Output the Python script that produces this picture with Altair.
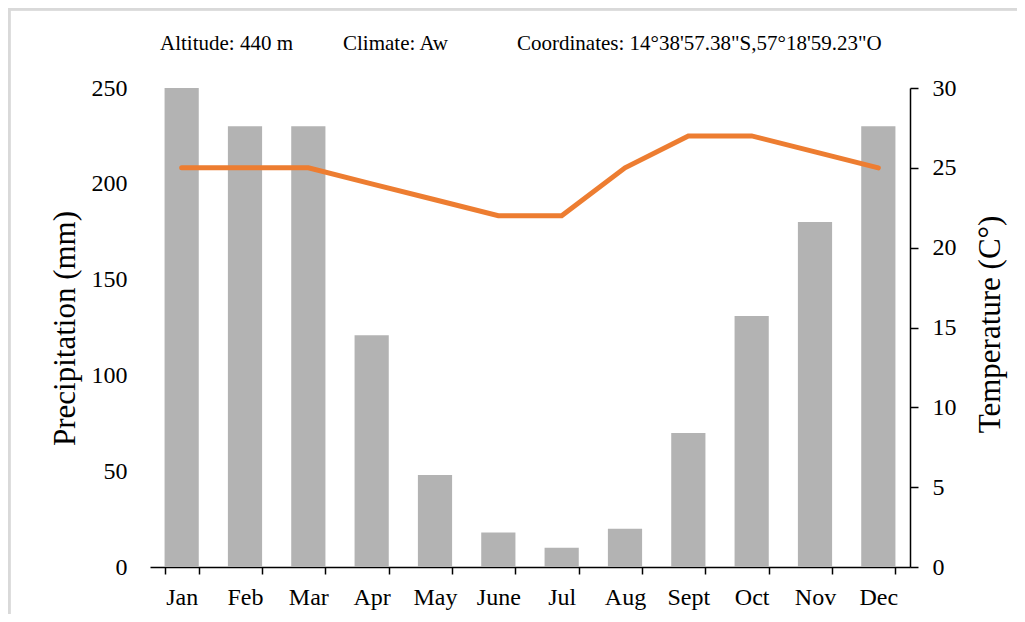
import altair as alt
import pandas as pd

months = ["Jan", "Feb", "Mar", "Apr", "May", "June", "Jul", "Aug", "Sept", "Oct", "Nov", "Dec"]
precipitation = [250, 230, 230, 121, 48, 18, 10, 20, 70, 131, 180, 230]
temperature = [25, 25, 25, 24, 23, 22, 22, 25, 27, 27, 26, 25]

header_texts = ["Altitude: 440 m", "Climate: Aw", "Coordinates: 14°38'57.38\"S,57°18'59.23\"O"]
header_x = [10, 193, 367]

df = pd.DataFrame({"month": months, "precip": precipitation, "temp": temperature})
hdr = pd.DataFrame({"label": header_texts, "px": header_x})

FONT = "Liberation Serif"
W, H = 760, 479

xenc = alt.X(
    "month:N",
    sort=months,
    scale=alt.Scale(paddingInner=0.46, paddingOuter=0.23),
    axis=alt.Axis(
        title=None, labelAngle=0, domainColor="black", domainWidth=1.5,
        tickColor="black", tickWidth=1.5, tickSize=7, tickBand="extent",
        labelFontSize=24, labelPadding=11, labelColor="black", labelFont=FONT,
    ),
)

bars = alt.Chart(df).mark_bar(color="#b3b3b3").encode(
    x=xenc,
    y=alt.Y(
        "precip:Q",
        scale=alt.Scale(domain=[0, 250], nice=False),
        axis=alt.Axis(
            title="Precipitation (mm)", values=[0, 50, 100, 150, 200, 250],
            domain=False, ticks=False, grid=False, labelPadding=23,
            labelFontSize=24, labelColor="black", labelFont=FONT,
            titleFontSize=31, titleFont=FONT, titleFontWeight="normal", titleColor="black",
            titleAngle=270, titleX=-85, titleY=240, titleBaseline="middle", titleAlign="center",
        ),
    ),
)

line = alt.Chart(df).mark_line(color="#ed7d31", strokeWidth=5, strokeCap="round").encode(
    x=alt.X("month:N", sort=months),
    y=alt.Y(
        "temp:Q",
        scale=alt.Scale(domain=[0, 30], nice=False),
        axis=alt.Axis(
            orient="right", title="Temperature (C°)", values=[0, 5, 10, 15, 20, 25, 30],
            domainColor="black", domainWidth=1.5, tickColor="black", tickWidth=1.5, tickSize=8,
            grid=False, labelPadding=14,
            labelFontSize=24, labelColor="black", labelFont=FONT,
            titleFontSize=31, titleFont=FONT, titleFontWeight="normal", titleColor="black",
            titleAngle=270, titleX=80, titleY=236, titleBaseline="middle", titleAlign="center",
        ),
    ),
)

header = alt.Chart(hdr).mark_text(
    font=FONT, fontSize=21, align="left", baseline="middle", color="black"
).encode(
    x=alt.X("px:Q", scale=None),
    y=alt.value(-44),
    text="label:N",
)

frame_top = alt.Chart(hdr).mark_rule(color="#d9d9d9", strokeWidth=3).encode(
    x=alt.value(-142), x2=alt.value(W + 110), y=alt.value(-79)
)
frame_left = alt.Chart(hdr).mark_rule(color="#d9d9d9", strokeWidth=3).encode(
    x=alt.value(-141), y=alt.value(-80), y2=alt.value(H + 50)
)

chart = alt.layer(bars, line, header, frame_top, frame_left).resolve_scale(
    y="independent"
).properties(
    width=W, height=H,
    background="white",
    autosize=alt.AutoSizeParams(type="none"),
    padding={"left": 142, "top": 80, "right": 107, "bottom": 47},
).configure_view(stroke=None)

chart.save("out.html", embed_options={"renderer": "svg", "actions": False})
